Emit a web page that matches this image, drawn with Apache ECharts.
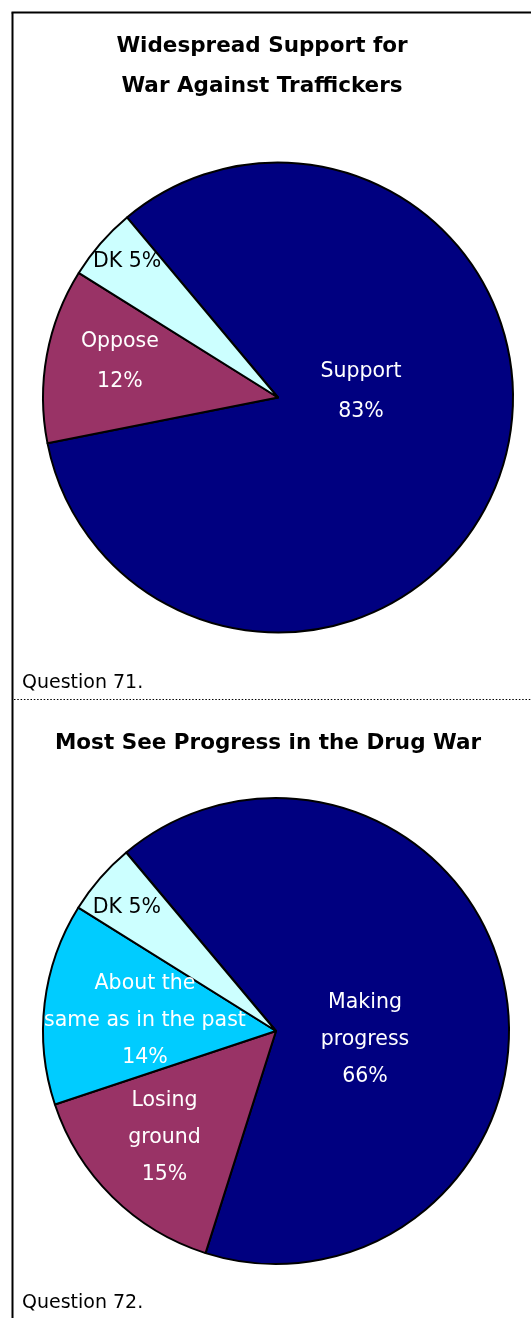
<!DOCTYPE html>
<html>
<head>
<meta charset="utf-8">
<script src="https://cdn.jsdelivr.net/npm/echarts@6/dist/echarts.min.js"></script>
<style>
html,body{margin:0;padding:0;background:#fff;}
#chart{width:531px;height:1318px;}
</style>
</head>
<body>
<div id="chart"></div>
<script>
// ---- Data ----
const title1 = 'Widespread Support for\nWar Against Traffickers';
const title2 = 'Most See Progress in the Drug War';
const note1 = 'Question 71.';
const note2 = 'Question 72.';

const categories1 = ['Support', 'Oppose', 'DK'];
const values1 = [83, 12, 5];
const labelNames1 = ['Support', 'Oppose', 'DK'];

const categories2 = ['Making progress', 'Losing ground', 'About the same as in the past', 'DK'];
const values2 = [66, 15, 14, 5];
const labelNames2 = ['Making\nprogress', 'Losing\nground', 'About the\nsame as in the past', 'DK'];

// ---- Styles / layout ----
const colors1 = ['#000080', '#993366', '#CCFFFF'];
const colors2 = ['#000080', '#993366', '#00CCFF', '#CCFFFF'];
const labelColors1 = ['#fff', '#fff', '#000'];
const labelColors2 = ['#fff', '#fff', '#fff', '#000'];
const labelSep1 = ['\n', '\n', ' '];
const labelSep2 = ['\n', '\n', '\n', ' '];
// label placement in polar terms: [angle in degrees (ccw from 3 o'clock), fraction of radius]
const labelPolar1 = [[4.1, 0.354], [167.2, 0.69], [138.1, 0.863]];
const labelPolar2 = [[-5.8, 0.384], [223.7, 0.662], [175.6, 0.564], [140.5, 0.829]];

const FONT = '"DejaVu Sans", Verdana, sans-serif';
const pie1 = { cx: 278, cy: 397.5, r: 235 };
const pie2 = { cx: 276, cy: 1031, r: 233 };

function makeSeries(pie, cats, vals, names, cols, lcols, seps, polar, lh) {
  return {
    type: 'pie',
    center: [pie.cx, pie.cy],
    radius: pie.r,
    startAngle: 130,
    clockwise: true,
    avoidLabelOverlap: false,
    silent: true,
    emphasis: { disabled: true, scale: false },
    data: cats.map((c, i) => ({
      name: c,
      value: vals[i],
      itemStyle: { color: cols[i] },
      label: { color: lcols[i], formatter: names[i] + seps[i] + vals[i] + '%' }
    })),
    itemStyle: { borderColor: '#000', borderWidth: 2 },
    label: {
      show: true,
      position: 'inside',
      fontFamily: FONT,
      fontSize: 20.5,
      lineHeight: lh,
      align: 'center'
    },
    labelLine: { show: false },
    labelLayout: function (params) {
      const p = polar[params.dataIndex];
      const a = p[0] * Math.PI / 180;
      return {
        x: pie.cx + p[1] * pie.r * Math.cos(a),
        y: pie.cy - p[1] * pie.r * Math.sin(a),
        align: 'center',
        verticalAlign: 'middle'
      };
    }
  };
}

const chart = echarts.init(document.getElementById('chart'), null, { renderer: 'canvas' });
chart.setOption({
  animation: false,
  backgroundColor: '#fff',
  graphic: [
    { type: 'line', shape: { x1: 12.5, y1: 12.5, x2: 12.5, y2: 1318 }, style: { stroke: '#000', lineWidth: 2 } },
    { type: 'line', shape: { x1: 11.5, y1: 12.5, x2: 531, y2: 12.5 }, style: { stroke: '#000', lineWidth: 2 } },
    { type: 'line', shape: { x1: 14, y1: 699.5, x2: 531, y2: 699.5 }, style: { stroke: '#000', lineWidth: 1.2, lineDash: [1.5, 1.8] } },
    { type: 'text', x: 262, y: 66, style: { text: title1, font: 'bold 21.5px ' + FONT, fill: '#000', align: 'center', verticalAlign: 'middle', lineHeight: 40 } },
    { type: 'text', x: 268, y: 743, style: { text: title2, font: 'bold 21.5px ' + FONT, fill: '#000', align: 'center', verticalAlign: 'middle' } },
    { type: 'text', x: 22, y: 683, style: { text: note1, font: '19px ' + FONT, fill: '#000', align: 'left', verticalAlign: 'middle' } },
    { type: 'text', x: 22, y: 1303, style: { text: note2, font: '19px ' + FONT, fill: '#000', align: 'left', verticalAlign: 'middle' } }
  ],
  series: [
    makeSeries(pie1, categories1, values1, labelNames1, colors1, labelColors1, labelSep1, labelPolar1, 40),
    makeSeries(pie2, categories2, values2, labelNames2, colors2, labelColors2, labelSep2, labelPolar2, 37)
  ]
});
</script>
</body>
</html>
